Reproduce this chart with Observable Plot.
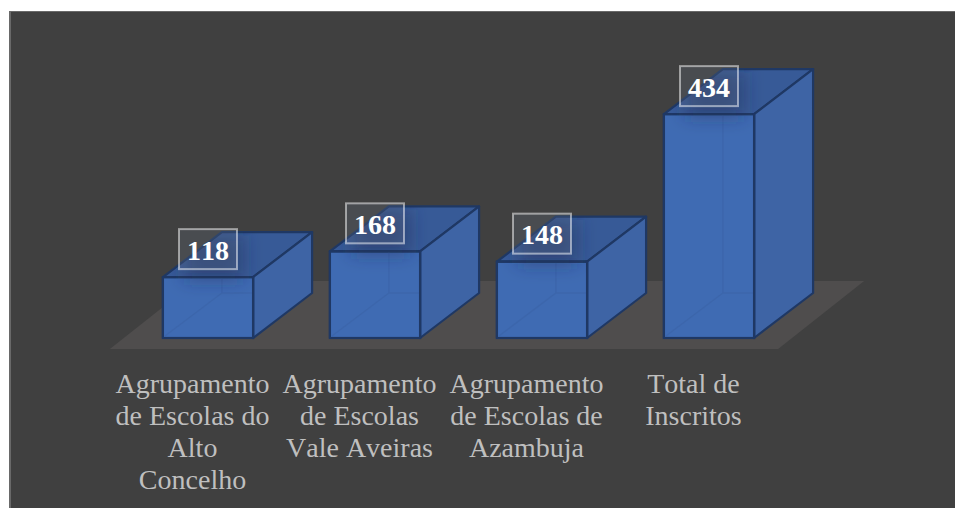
<!DOCTYPE html>
<html>
<head>
<meta charset="utf-8">
<script src="https://cdn.jsdelivr.net/npm/d3@7"></script>
<script src="https://cdn.jsdelivr.net/npm/@observablehq/plot@0.6"></script>
<style>
html,body{margin:0;padding:0;background:#fff;overflow:hidden}
#chart{position:absolute;left:9px;top:11px;width:944px;height:496px;border-left:2px solid #696969;border-top:1px solid #696969;background:#404040}
#chart svg{display:block;background:#404040;font-kerning:none}
</style>
</head>
<body>
<div id="chart"></div>
<script>
const categories = [
  "Agrupamento\nde Escolas do\nAlto\nConcelho",
  "Agrupamento\nde Escolas\nVale Aveiras",
  "Agrupamento\nde Escolas de\nAzambuja",
  "Total de\nInscritos"
];
const values = [118, 168, 148, 434];
const rows = categories.map((category, i) => ({category, value: values[i]}));

const paddingInner = 0.46;
const depthX = 59, depthY = -45;
const poly = (g, pts, attrs) => {
  const p = g.append("polygon").attr("points", pts.map(d => d.join(",")).join(" "));
  Object.entries(attrs).forEach(([k, v]) => p.attr(k, v));
  return p;
};
const bandOf = x => (x(categories[1]) - x(categories[0])) * (1 - paddingInner);

function floorMark(index, {x, y}) {
  const g = d3.create("svg:g");
  const base = y(0);
  const left = x(categories[0]), right = x(categories[3]) + bandOf(x);
  poly(g, [[left - 53, base + 11], [right + 24, base + 11], [right + 110, base - 57], [left + 33, base - 57]], {fill: "#4f4d4d"});
  return g.node();
}

function facesMark(index, {x, y}) {
  const w = bandOf(x);
  const g = d3.create("svg:g").attr("stroke", "#1f3864").attr("stroke-width", 2.2).attr("stroke-linejoin", "round");
  for (const d of rows) {
    const l = x(d.category), r = l + w, t = y(d.value), b = y(0);
    poly(g, [[l, t], [r, t], [r + depthX, t + depthY], [l + depthX, t + depthY]], {fill: "#375a97"});
    poly(g, [[r, t], [r + depthX, t + depthY], [r + depthX, b + depthY], [r, b]], {fill: "#3e64a5"});
    poly(g, [[l, t], [r, t], [r, b], [l, b]], {fill: "#3f6bb3"});
    g.append("path")
      .attr("d", `M${l + 2},${b - 2}L${l + depthX},${b + depthY}L${r - 1},${b + depthY}M${l + depthX},${b + depthY}L${l + depthX},${t + 1}`)
      .attr("fill", "none").attr("stroke", "#3a62a6").attr("stroke-opacity", 0.55).attr("stroke-width", 1.5);
  }
  return g.node();
}

function shadowMark(index, {x, y}) {
  const w = bandOf(x);
  const g = d3.create("svg:g");
  const defs = g.append("defs");
  defs.append("filter").attr("id", "blur").attr("x", "-50%").attr("y", "-50%").attr("width", "200%").attr("height", "200%")
    .append("feGaussianBlur").attr("stdDeviation", 9);
  rows.forEach((d, i) => {
    const l = x(d.category), r = l + w, t = y(d.value), cx = (l + r) / 2;
    const pts = [[l, t + 45], [l, t], [l + depthX, t + depthY], [r + depthX, t + depthY], [r, t], [r, t + 45]];
    defs.append("clipPath").attr("id", "clip" + i).append("polygon").attr("points", pts.map(p => p.join(",")).join(" "));
    g.append("g").attr("clip-path", `url(#clip${i})`)
      .append("rect").attr("x", cx - 24).attr("y", t - 42).attr("width", 59).attr("height", 44)
      .attr("fill", "#1f2f55").attr("fill-opacity", 0.45).attr("filter", "url(#blur)");
  });
  return g.node();
}

function boxMark(index, {x, y}) {
  const w = bandOf(x);
  const g = d3.create("svg:g");
  for (const d of rows) {
    const cx = x(d.category) + w / 2, cy = y(d.value) - 28;
    g.append("rect").attr("x", cx - 29).attr("y", cy - 20).attr("width", 58).attr("height", 40)
      .attr("fill", "#6f7c90").attr("fill-opacity", 0.2)
      .attr("stroke", "#ffffff").attr("stroke-opacity", 0.5).attr("stroke-width", 2);
  }
  return g.node();
}

const chart = Plot.plot({
  width: 944,
  height: 496,
  marginTop: 0,
  marginRight: 0,
  marginLeft: 0,
  marginBottom: 170,
  style: {background: "#404040", overflow: "visible"},
  x: {domain: categories, range: [113.5, 781.5], paddingInner, paddingOuter: paddingInner / 2, round: false, label: null},
  y: {domain: [0, 632], range: [326, 0], axis: null},
  marks: [
    floorMark,
    Plot.axisX({
      anchor: "bottom", tickSize: 0, tickPadding: 32, dx: -16, lineHeight: 1.143, lineAnchor: "top",
      fontSize: 28, fontFamily: "Liberation Serif", fill: "#bfbfbf", label: null,
      tickFormat: d => d
    }),
    facesMark,
    Plot.barY(rows, {x: "category", y: "value", fill: "#3f6bb3", stroke: "#1f3864", strokeWidth: 2.2, fillOpacity: 0}),
    shadowMark,
    boxMark,
    Plot.text(rows, {
      x: "category", y: "value", text: d => String(d.value), dy: -27, dx: -0.5,
      fill: "#ffffff", fontSize: 28, fontWeight: "bold", fontFamily: "Liberation Serif"
    })
  ]
});
document.getElementById("chart").appendChild(chart);
</script>
</body>
</html>
